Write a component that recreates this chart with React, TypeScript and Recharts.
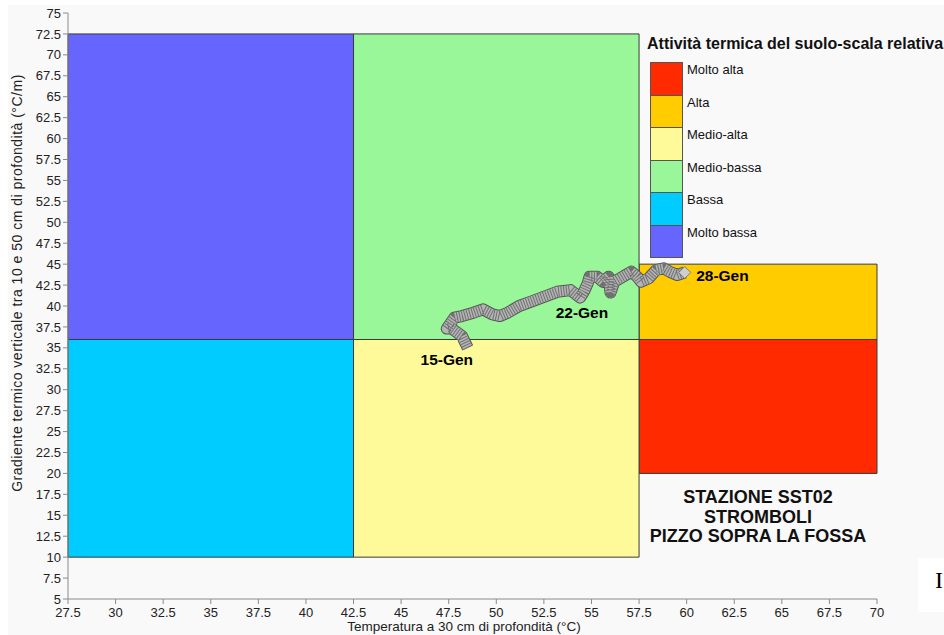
import React from 'react';
import {
  ComposedChart,
  XAxis,
  YAxis,
  Line,
  ReferenceArea,
  ReferenceDot,
} from 'recharts';

// ---- Data ----
const xTicks = [27.5, 30, 32.5, 35, 37.5, 40, 42.5, 45, 47.5, 50, 52.5, 55, 57.5, 60, 62.5, 65, 67.5, 70];
const yTicks = [5, 7.5, 10, 12.5, 15, 17.5, 20, 22.5, 25, 27.5, 30, 32.5, 35, 37.5, 40, 42.5, 45, 47.5, 50, 52.5, 55, 57.5, 60, 62.5, 65, 67.5, 70, 72.5, 75];

const zoneNames = ['Molto alta', 'Alta', 'Medio-alta', 'Medio-bassa', 'Bassa', 'Molto bassa'];
const zoneTempMin = [57.5, 57.5, 42.5, 42.5, 27.5, 27.5];
const zoneTempMax = [70, 70, 57.5, 57.5, 42.5, 42.5];
const zoneGradMin = [20, 36, 10, 36, 10, 36];
const zoneGradMax = [36, 45, 36, 72.5, 36, 72.5];
const zoneColors = ['#FF2A00', '#FFCC00', '#FFFA99', '#99F799', '#00CCFF', '#6666FF'];

// trajectory (15-Gen -> 28-Gen)
const trajTemp = [48.5, 48.2, 47.6, 47.4, 47.8, 48.2, 48.8, 49.3, 49.8, 50.2, 50.6, 51.2, 51.8, 52.5, 53.2, 53.9, 54.4, 54.6, 54.8, 54.9, 55.3, 55.6, 55.9, 56.0, 56.2, 56.5, 56.8, 57.1, 57.4, 57.6, 58.0, 58.4, 58.8, 59.1, 59.5, 59.9];
const trajGrad = [35.0, 36.4, 37.4, 37.3, 38.6, 38.8, 39.2, 39.6, 39.0, 38.8, 39.2, 40.0, 40.5, 41.1, 41.7, 41.9, 41.0, 41.7, 42.7, 43.5, 43.5, 42.9, 43.5, 41.6, 42.9, 43.3, 43.7, 44.1, 43.5, 42.9, 43.3, 44.3, 44.5, 44.1, 43.7, 44.0];

const dateLabels = ['15-Gen', '22-Gen', '28-Gen'];
const dateLabelTemp = [47.4, 54.5, 60.5];
const dateLabelGrad = [33.6, 39.2, 43.6];

const stationLines = ['STAZIONE SST02', 'STROMBOLI', 'PIZZO SOPRA LA FOSSA'];
const legendTitle = 'Attività termica del suolo-scala relativa';
const xTitle = 'Temperatura a 30 cm di profondità (°C)';
const yTitle = 'Gradiente termico verticale tra 10 e 50 cm di profondità (°C/m)';

const trajectory = trajTemp.map((t, i) => ({ x: t, y: trajGrad[i] }));

const FONT = '"Liberation Sans", Arial, sans-serif';

const Diamond = (props: any) => {
  const { cx, cy } = props;
  if (cx == null || cy == null) return <g />;
  const s = 6;
  return (
    <path
      d={`M${cx - s},${cy} L${cx},${cy - s} L${cx + s},${cy} L${cx},${cy + s} Z`}
      fill="#cfcfcf"
      stroke="#666"
      strokeWidth={0.8}
    />
  );
};

export default function App() {
  return (
    <div
      style={{
        position: 'absolute',
        left: 0,
        top: 0,
        width: 944,
        height: 635,
        overflow: 'hidden',
        background: '#ffffff',
        fontFamily: FONT,
      }}
    >
      <div style={{ position: 'absolute', left: 8, top: 5, width: 936, height: 630, background: '#f9f9f9' }} />
      <div style={{ position: 'absolute', left: 0, top: 0 }}>
        <ComposedChart
          width={944}
          height={635}
          data={trajectory}
          margin={{ top: 13, right: 67, bottom: 0, left: 28 }}
          style={{ fontFamily: FONT }}
        >
          <XAxis
            type="number"
            dataKey="x"
            domain={[27.5, 70]}
            ticks={xTicks}
            interval={0}
            height={36}
            stroke="#8a8a8a"
            tickSize={5}
            tickMargin={4}
            tick={{ fill: '#222', fontSize: 13 }}
            allowDataOverflow
          />
          <YAxis
            type="number"
            dataKey="y"
            domain={[5, 75]}
            ticks={yTicks}
            interval={0}
            width={40}
            stroke="#8a8a8a"
            tickSize={5}
            tick={{ fill: '#222', fontSize: 13 }}
            allowDataOverflow
          />
          {zoneNames.map((n, i) => (
            <ReferenceArea
              key={n}
              x1={zoneTempMin[i]}
              x2={zoneTempMax[i]}
              y1={zoneGradMin[i]}
              y2={zoneGradMax[i]}
              fill={zoneColors[i]}
              fillOpacity={1}
              stroke="#3a3a3a"
              strokeWidth={1}
              ifOverflow="visible"
            />
          ))}
          <Line
            dataKey="y"
            type="linear"
            stroke="#555"
            strokeWidth={12}
            dot={false}
            activeDot={false}
            strokeLinejoin="round"
            isAnimationActive={false}
          />
          <Line
            dataKey="y"
            type="linear"
            stroke="#b4b4b4"
            strokeWidth={10}
            dot={false}
            activeDot={false}
            strokeLinejoin="round"
            isAnimationActive={false}
          />
          <Line
            dataKey="y"
            type="linear"
            stroke="#707070"
            strokeWidth={10}
            strokeDasharray="1 1.6"
            dot={false}
            activeDot={false}
            strokeLinejoin="round"
            isAnimationActive={false}
          />
          <ReferenceDot
            x={trajTemp[trajTemp.length - 1]}
            y={trajGrad[trajGrad.length - 1]}
            r={6}
            shape={Diamond}
            ifOverflow="visible"
          />
          {dateLabels.map((d, i) => (
            <ReferenceDot
              key={d}
              x={dateLabelTemp[i]}
              y={dateLabelGrad[i]}
              r={0}
              fill="none"
              stroke="none"
              ifOverflow="visible"
              label={{
                value: d,
                position: i === 2 ? 'right' : 'center',
                offset: 0,
                fill: '#000',
                fontSize: 15.5,
                fontWeight: 'bold',
              }}
            />
          ))}
        </ComposedChart>
      </div>

      {/* Axis titles */}
      <div
        style={{
          position: 'absolute',
          left: 464,
          top: 626,
          transform: 'translate(-50%, -50%)',
          fontSize: 13.5,
          color: '#222',
          whiteSpace: 'nowrap',
        }}
      >
        {xTitle}
      </div>
      <div
        style={{
          position: 'absolute',
          left: 17,
          top: 283,
          transform: 'translate(-50%, -50%) rotate(-90deg)',
          fontSize: 14,
          letterSpacing: 0.5,
          color: '#222',
          whiteSpace: 'nowrap',
        }}
      >
        {yTitle}
      </div>

      {/* Legend */}
      <div
        style={{
          position: 'absolute',
          left: 647,
          top: 35,
          fontSize: 16,
          fontWeight: 'bold',
          color: '#111',
          whiteSpace: 'nowrap',
        }}
      >
        {legendTitle}
      </div>
      {zoneNames.map((n, i) => (
        <React.Fragment key={n}>
          <div
            style={{
              position: 'absolute',
              left: 650,
              top: 62 + i * 32.5,
              width: 33,
              height: 33.5,
              background: zoneColors[i],
              border: '1px solid #555',
              boxSizing: 'border-box',
            }}
          />
          <div
            style={{
              position: 'absolute',
              left: 687,
              top: 62 + i * 32.5,
              fontSize: 13,
              color: '#111',
              whiteSpace: 'nowrap',
              lineHeight: '16px',
            }}
          >
            {n}
          </div>
        </React.Fragment>
      ))}

      {/* Station text */}
      <div
        style={{
          position: 'absolute',
          left: 758,
          top: 488,
          transform: 'translateX(-50%)',
          fontSize: 18,
          fontWeight: 'bold',
          color: '#111',
          textAlign: 'center',
          lineHeight: '19.5px',
          whiteSpace: 'nowrap',
        }}
      >
        {stationLines.map((l) => (
          <div key={l}>{l}</div>
        ))}
      </div>

      {/* page fragment at bottom right */}
      <div style={{ position: 'absolute', left: 918, top: 558, width: 26, height: 54, background: '#fff' }} />
      <div
        style={{
          position: 'absolute',
          left: 935,
          top: 566,
          fontFamily: '"Liberation Serif", "DejaVu Serif", serif',
          fontSize: 24,
          color: '#000',
          lineHeight: '28px',
        }}
      >
        I
      </div>
    </div>
  );
}
